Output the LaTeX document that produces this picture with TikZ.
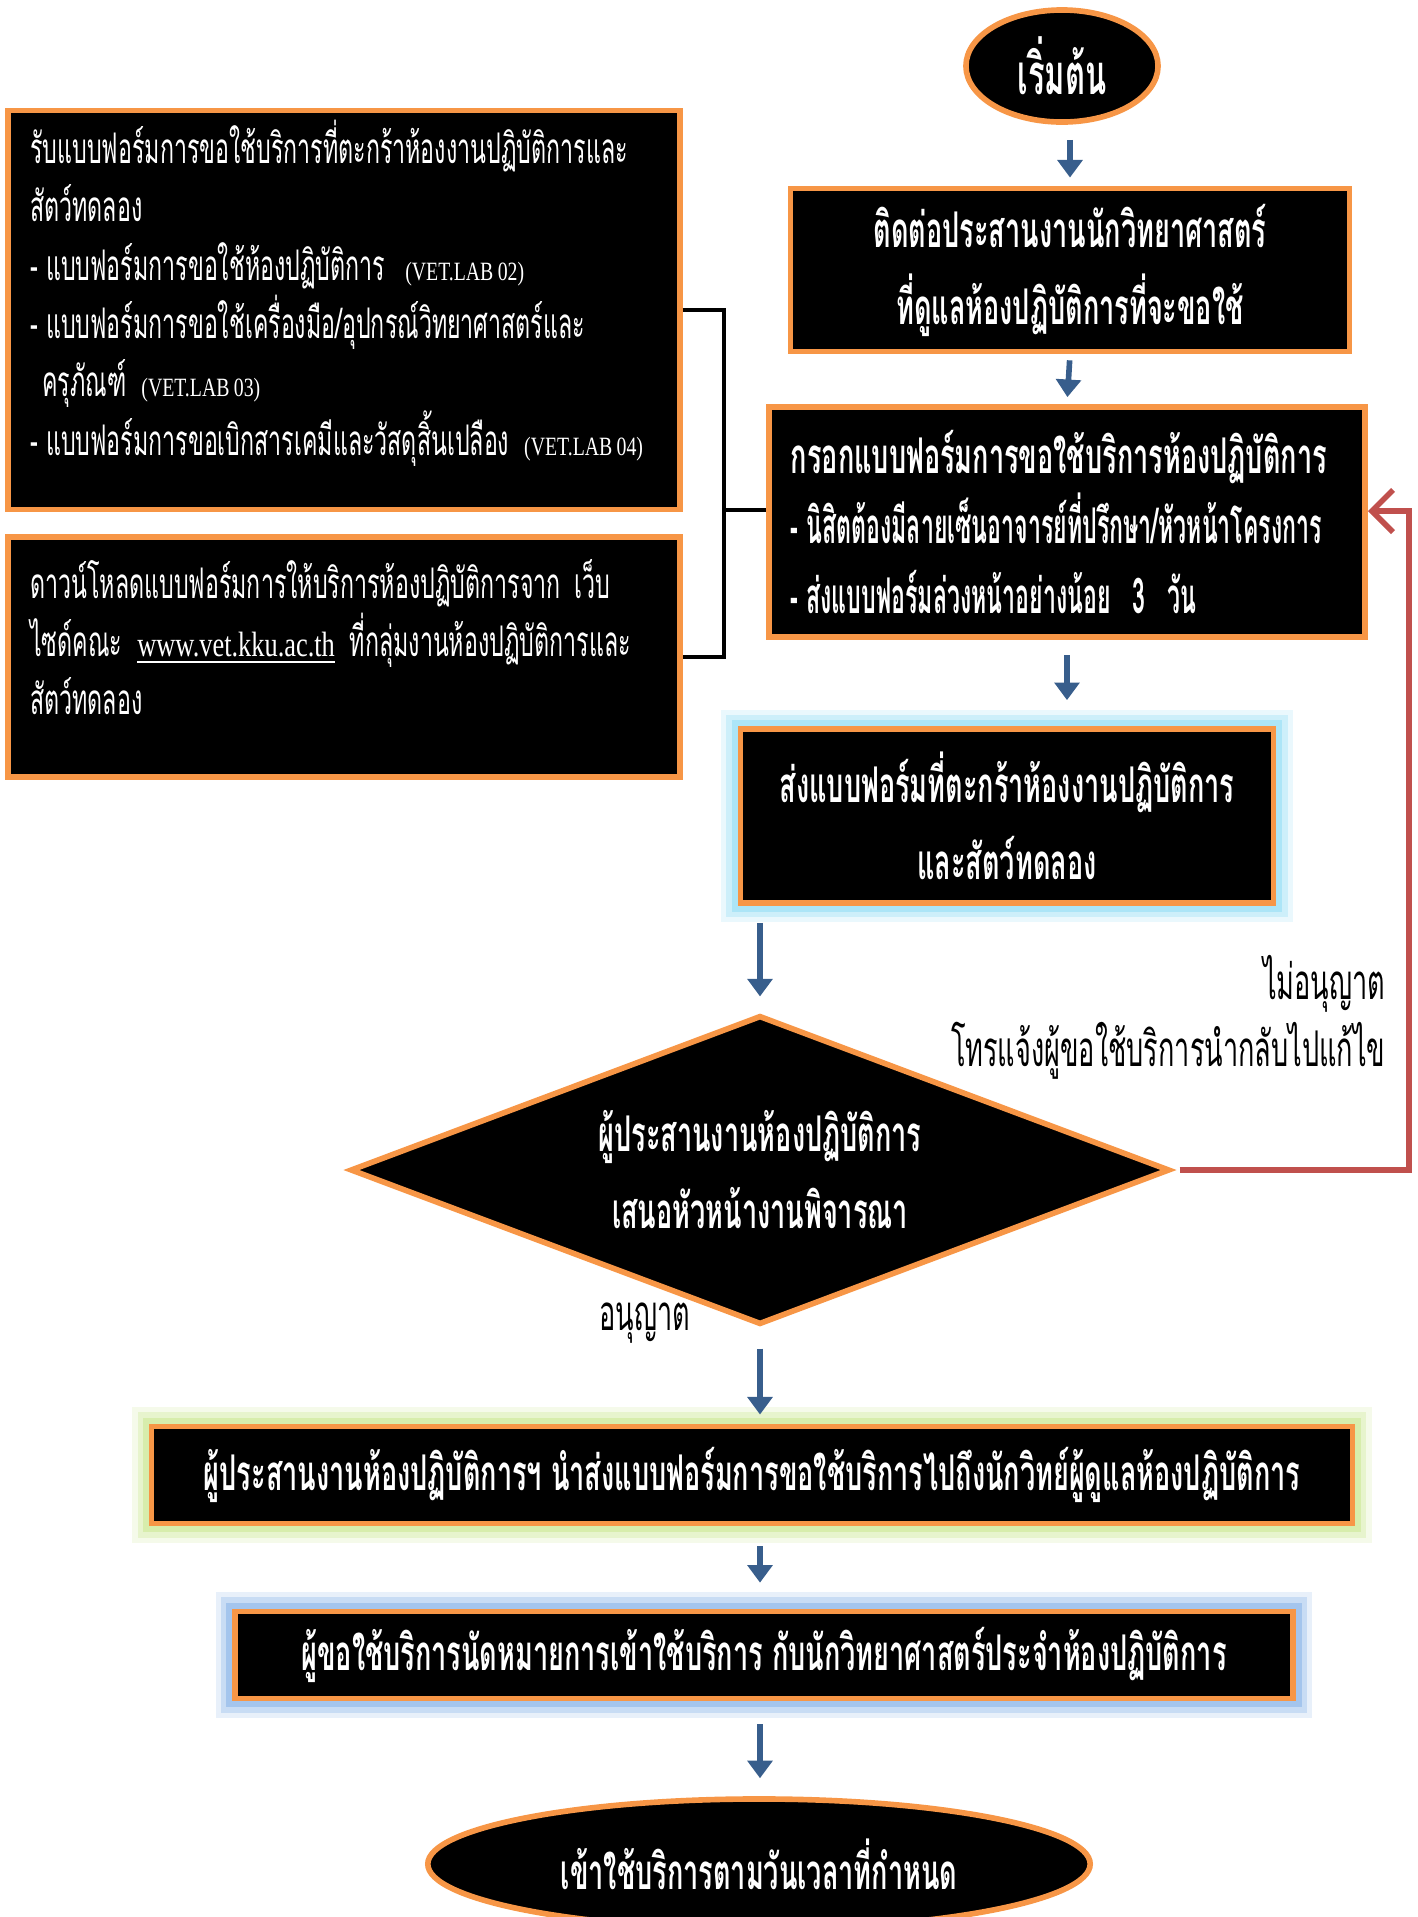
\documentclass[tikz,border=0pt]{standalone}
\usepackage{fontspec}
\usepackage{tikz}
\usetikzlibrary{arrows.meta,shapes.geometric,calc}
\newfontfamily\thaifont[Script=Thai,FakeStretch=0.55]{Loma}
\newfontfamily\thaitight[Script=Thai,FakeStretch=0.47]{Loma}
\newfontfamily\latinfont[FakeStretch=0.75]{Liberation Serif}
\newcommand\plainthai{\thaifont\fontsize{12pt}{16.6pt}\selectfont}
\newcommand\boldthai{\thaifont\bfseries\fontsize{14pt}{21.9pt}\selectfont}
\newcommand\labcode[1]{{\latinfont\fontsize{7.5pt}{9pt}\selectfont(#1)}}
\newcommand\bullitem{\mbox{-}\hspace{0.08cm}}
\definecolor{BoxOrange}{RGB}{247,150,70}
\definecolor{FlowBlue}{RGB}{56,94,140}
\definecolor{BackRed}{RGB}{192,80,77}
\definecolor{GlowCyan}{RGB}{150,222,245}
\definecolor{GlowLime}{RGB}{205,232,150}
\definecolor{GlowBlue}{RGB}{140,182,232}
\begin{document}
\begin{tikzpicture}[x=0.01cm,y=-0.01cm,>={Triangle[width=7pt,length=5pt]},
    panel/.style={draw=BoxOrange,line width=1.6pt,fill=black,text=white},
    note/.style={panel,text width=6.27cm,inner xsep=0.22cm,inner ysep=0pt,align=left,font=\plainthai},
    stepbox/.style={panel,align=center,inner sep=0pt,font=\boldthai},
    endcap/.style={panel,ellipse,inner sep=0pt,font=\boldthai},
    decide/.style={panel,diamond,aspect=2.65,inner sep=0pt,align=center,font=\boldthai},
    glow/.style={preaction={draw=#1,line width=11pt,opacity=.2},preaction={draw=#1,line width=8pt,opacity=.35},
      preaction={draw=#1,line width=5pt,opacity=.6}},
    flow/.style={->,FlowBlue,line width=1.6pt},
    back/.style={-{Straight Barb[length=6pt,width=12pt]},BackRed,line width=1.6pt},
    link/.style={line width=1pt}]
  \useasboundingbox (0,0) rectangle (1418,1917);
  \node[endcap,minimum width=1.92cm,minimum height=1.12cm,font={\thaifont\bfseries\fontsize{16pt}{18pt}\selectfont}] (start) at (1062,66) {เริ่มต้น};
  \node[stepbox,minimum width=5.59cm,minimum height=1.63cm] (contact) at (1070,270)
    {ติดต่อประสานงานนักวิทยาศาสตร์\\ที่ดูแลห้องปฏิบัติการที่จะขอใช้};
  \node[stepbox,align=left,text width=5.52cm,inner xsep=0.22cm,minimum height=2.3cm,
    font={\thaifont\bfseries\fontsize{14pt}{19.9pt}\selectfont}] (fill) at (1067,522)
    {กรอกแบบฟอร์มการขอใช้บริการห้องปฏิบัติการ\\
     {\thaitight\bullitem นิสิตต้องมีลายเซ็นอาจารย์ที่ปรึกษา/หัวหน้าโครงการ}\\
     {\thaitight\bullitem ส่งแบบฟอร์มล่วงหน้าอย่างน้อย\hspace{0.22cm}3\hspace{0.22cm}วัน}};
  \node[stepbox,glow=GlowCyan,minimum width=5.33cm,minimum height=1.74cm] (send) at (1007,816)
    {ส่งแบบฟอร์มที่ตะกร้าห้องงานปฏิบัติการ\\และสัตว์ทดลอง};
  \node[decide,minimum width=8.19cm,minimum height=3.09cm] (check) at (760,1170)
    {ผู้ประสานงานห้องปฏิบัติการ\\เสนอหัวหน้างานพิจารณา};
  \node[stepbox,glow=GlowLime,minimum width=12cm,minimum height=0.97cm] (forward) at (752,1475)
    {ผู้ประสานงานห้องปฏิบัติการฯ นำส่งแบบฟอร์มการขอใช้บริการไปถึงนักวิทย์ผู้ดูแลห้องปฏิบัติการ};
  \node[stepbox,glow=GlowBlue,minimum width=10.57cm,minimum height=0.87cm] (appoint) at (764,1655)
    {ผู้ขอใช้บริการนัดหมายการเข้าใช้บริการ กับนักวิทยาศาสตร์ประจำห้องปฏิบัติการ};
  \node[endcap,minimum width=6.62cm,minimum height=1.3cm] (finish) at (759,1864)
    {เข้าใช้บริการตามวันเวลาที่กำหนด};
  \node[note,minimum height=3.99cm] (forms) at (344,310)
    {รับแบบฟอร์มการขอใช้บริการที่ตะกร้าห้องงานปฏิบัติการและ\\
     สัตว์ทดลอง\\
     \bullitem แบบฟอร์มการขอใช้ห้องปฏิบัติการ\hspace{0.2cm}\labcode{VET.LAB\,02}\\
     \bullitem แบบฟอร์มการขอใช้เครื่องมือ/อุปกรณ์วิทยาศาสตร์และ\\
     \hspace*{0.12cm}ครุภัณฑ์\hspace{0.15cm}\labcode{VET.LAB\,03}\\
     \mbox{\bullitem แบบฟอร์มการขอเบิกสารเคมีและวัสดุสิ้นเปลือง\hspace{0.15cm}\labcode{VET.LAB\,04}}\par\vspace*{0.34cm}};
  \node[note,minimum height=2.4cm] (download) at (344,657)
    {ดาวน์โหลดแบบฟอร์มการให้บริการห้องปฏิบัติการจาก เว็บ\\
     ไซด์คณะ\hspace{0.15cm}{\latinfont\fontsize{10pt}{12pt}\selectfont\underline{www.vet.kku.ac.th}}\hspace{0.15cm}ที่กลุ่มงานห้องปฏิบัติการและ\\
     สัตว์ทดลอง\par\vspace*{0.4cm}};
  \node[anchor=east,inner sep=0pt,align=right,font={\thaifont\fontsize{14pt}{19pt}\selectfont}] (nolbl) at (1386,1017)
    {ไม่อนุญาต\\โทรแจ้งผู้ขอใช้บริการนำกลับไปแก้ไข};
  \node[font={\thaifont\fontsize{14pt}{19pt}\selectfont}] (yeslbl) at (645,1323) {อนุญาต};
  \draw[flow,shorten <=4.3pt,shorten >=2.3pt] (contact.north |- start.south) -- (contact.north);
  \draw[flow,shorten <=1.7pt,shorten >=2pt] (contact.south) -- (fill.north);
  \draw[flow,shorten <=4.3pt,shorten >=7.4pt] (fill.south) -- (fill.south |- send.north);
  \draw[flow,shorten <=4.8pt,shorten >=4.6pt] (check.north |- send.south) -- (check.north);
  \draw[flow,shorten <=6pt,shorten >=2.6pt] (check.south) -- (check.south |- forward.north);
  \draw[flow,shorten <=5.7pt,shorten >=7.4pt] (check.south |- forward.south) -- (check.south |- appoint.north);
  \draw[flow,shorten <=6.5pt,shorten >=5.1pt] (check.south |- appoint.south) -- (check.south |- finish.north);
  \coordinate (turn) at (1409,1170);
  \draw[back,shorten <=2pt] (check.east) -- (turn) |- ([yshift=0.11cm]fill.east);
  \coordinate (join) at (724,510);
  \draw[link] (forms.east) -| (join) |- (download.east);
  \draw[link] (join) -- (join -| fill.west);
\end{tikzpicture}
\end{document}
